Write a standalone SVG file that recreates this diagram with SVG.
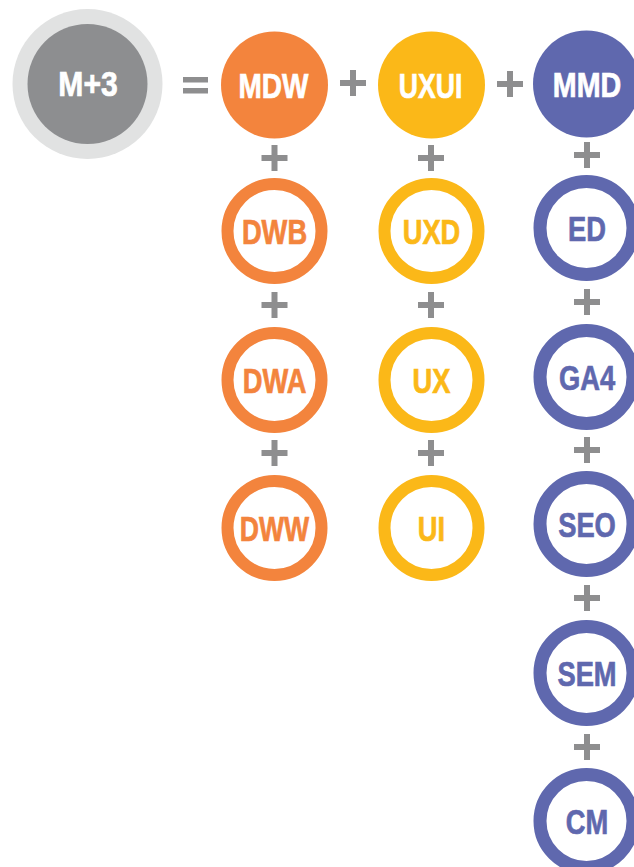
<svg xmlns="http://www.w3.org/2000/svg" xmlns:xlink="http://www.w3.org/1999/xlink" width="634" height="867" viewBox="0 0 634 867">
  <style>
    .lbl { font-family: "Liberation Sans", Arial, sans-serif; font-weight: bold; font-size: 35px; text-anchor: middle; stroke-width: 0.7; }
    .w { fill: #ffffff; stroke: #ffffff; }
    .o { fill: #f3843d; stroke: #f3843d; }
    .y { fill: #fbb818; stroke: #fbb818; }
    .p { fill: #5f68ae; stroke: #5f68ae; }
    .ro { fill: #ffffff; stroke: #f3843d; stroke-width: 12; }
    .ry { fill: #ffffff; stroke: #fbb818; stroke-width: 12; }
    .rp { fill: #ffffff; stroke: #5f68ae; stroke-width: 13; }
    .op { fill: #8e8e8f; }
  </style>
  <defs>
    <path id="plus" class="op" d="M-13,-3 H-3 V-13 H3 V-3 H13 V3 H3 V13 H-3 V3 H-13 Z"/>
  </defs>
  <rect width="634" height="867" fill="#ffffff"/>

  <g id="connectors">
    <rect class="op" x="183" y="77" width="25" height="5.5"/>
    <rect class="op" x="183" y="88" width="25" height="5.5"/>
    <use xlink:href="#plus" x="353" y="83"/>
    <use xlink:href="#plus" x="510" y="84"/>
    <use xlink:href="#plus" x="274.5" y="158"/>
    <use xlink:href="#plus" x="274.5" y="305"/>
    <use xlink:href="#plus" x="274.5" y="453"/>
    <use xlink:href="#plus" x="431" y="158"/>
    <use xlink:href="#plus" x="431" y="305"/>
    <use xlink:href="#plus" x="431" y="453"/>
    <use xlink:href="#plus" x="587" y="155"/>
    <use xlink:href="#plus" x="587" y="302"/>
    <use xlink:href="#plus" x="587" y="450"/>
    <use xlink:href="#plus" x="587" y="598"/>
    <use xlink:href="#plus" x="587" y="747"/>
  </g>

  <g id="m3">
    <circle cx="87.5" cy="84" r="75" fill="#e1e2e2"/>
    <circle cx="87.5" cy="84" r="60" fill="#8d8e90"/>
    <text class="lbl w" transform="translate(88,96) scale(0.86,1)">M+3</text>
  </g>

  <g id="mdw">
    <circle cx="274.5" cy="85" r="53.5" fill="#f3843d"/>
    <text class="lbl w" transform="translate(273.5,97.5) scale(0.8,1)">MDW</text>
  </g>
  <g id="dwb">
    <circle class="ro" cx="274.5" cy="231" r="47"/>
    <text class="lbl o" transform="translate(274.5,243.5) scale(0.78,1)">DWB</text>
  </g>
  <g id="dwa">
    <circle class="ro" cx="274.5" cy="380" r="47"/>
    <text class="lbl o" transform="translate(274.5,392.5) scale(0.78,1)">DWA</text>
  </g>
  <g id="dww">
    <circle class="ro" cx="274.5" cy="528" r="47"/>
    <text class="lbl o" transform="translate(274.5,540.5) scale(0.76,1)">DWW</text>
  </g>

  <g id="uxui">
    <circle cx="431.5" cy="85" r="53.5" fill="#fbb818"/>
    <text class="lbl w" transform="translate(430.5,97.5) scale(0.76,1)">UXUI</text>
  </g>
  <g id="uxd">
    <circle class="ry" cx="431.5" cy="231" r="47"/>
    <text class="lbl y" transform="translate(431.5,243.5) scale(0.78,1)">UXD</text>
  </g>
  <g id="ux">
    <circle class="ry" cx="431.5" cy="380" r="47"/>
    <text class="lbl y" transform="translate(431.5,392.5) scale(0.78,1)">UX</text>
  </g>
  <g id="ui">
    <circle class="ry" cx="431.5" cy="528" r="47"/>
    <text class="lbl y" transform="translate(431.5,540.5) scale(0.78,1)">UI</text>
  </g>

  <g id="mmd">
    <circle cx="586.5" cy="84" r="53.5" fill="#5f68ae"/>
    <text class="lbl w" transform="translate(587,96.5) scale(0.82,1)">MMD</text>
  </g>
  <g id="ed">
    <circle class="rp" cx="586.5" cy="228" r="46.5"/>
    <text class="lbl p" transform="translate(587,240.5) scale(0.78,1)">ED</text>
  </g>
  <g id="ga4">
    <circle class="rp" cx="586.5" cy="377" r="46.5"/>
    <text class="lbl p" transform="translate(587,389.5) scale(0.78,1)">GA4</text>
  </g>
  <g id="seo">
    <circle class="rp" cx="586.5" cy="524" r="46.5"/>
    <text class="lbl p" transform="translate(587,536.5) scale(0.78,1)">SEO</text>
  </g>
  <g id="sem">
    <circle class="rp" cx="586.5" cy="673" r="46.5"/>
    <text class="lbl p" transform="translate(587,685.5) scale(0.78,1)">SEM</text>
  </g>
  <g id="cm">
    <circle class="rp" cx="586.5" cy="821" r="46.5"/>
    <text class="lbl p" transform="translate(587,833.5) scale(0.78,1)">CM</text>
  </g>
</svg>
